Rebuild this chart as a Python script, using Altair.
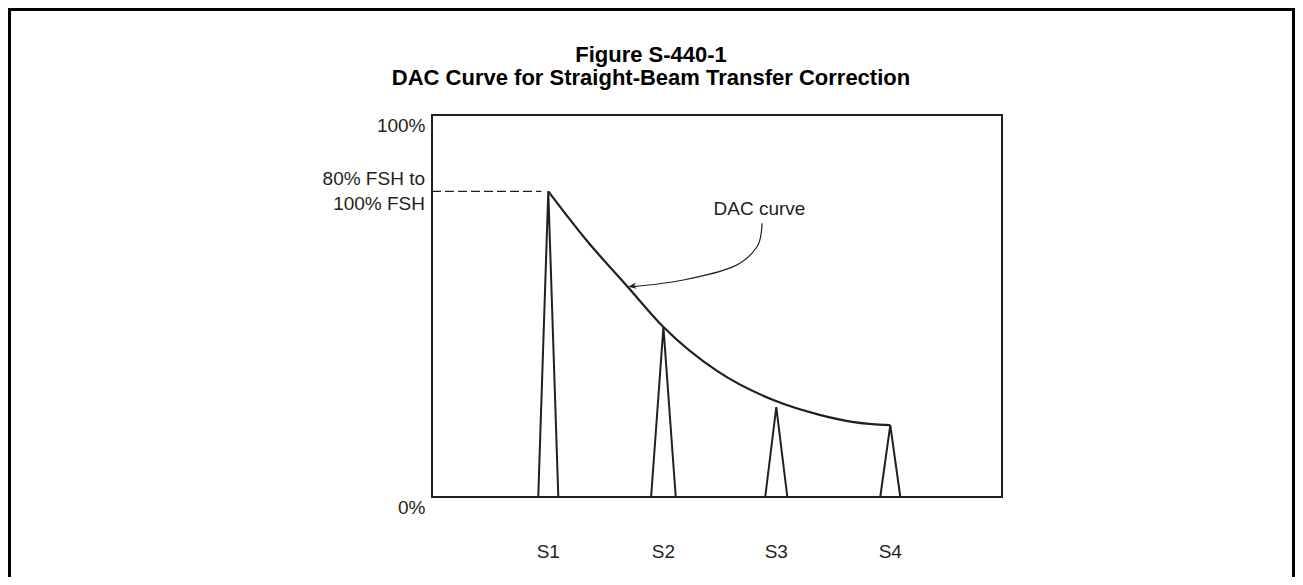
import altair as alt
import pandas as pd

INK = "#231f20"
FONT = "Liberation Sans"

# ---- data ----
peak_names = ["S1", "S2", "S3", "S4"]
peak_pos = [1.02, 2.03, 3.02, 4.02]
peak_height = [80.0, 44.5, 23.5, 18.8]
peak_half_width = [0.088, 0.108, 0.097, 0.088]

dac_x = [1.02, 1.35, 1.72, 2.03, 2.5, 3.0, 3.4, 3.7, 4.02]
dac_y = [80.0, 67.4, 54.9, 44.5, 33.0, 25.3, 21.5, 19.6, 18.8]

arrow_x = [2.895, 2.851, 2.643, 2.205, 1.766]
arrow_y = [71.65, 65.5, 60.3, 56.8, 55.05]
arrow_tip_x = [1.722]
arrow_tip_y = [55.05]

fsh_level = 80.0
dash_x = [0.0, 0.96]

y_ticks = [0, 100]
fsh_label = ["80% FSH to", "100% FSH"]
dac_label = "DAC curve"
dac_label_x = [2.47]
dac_label_y = [73.8]
title_lines = ["Figure S-440-1", "DAC Curve for Straight-Beam Transfer Correction"]

# ---- tables ----
rows = []
for n, p, h, w in zip(peak_names, peak_pos, peak_height, peak_half_width):
    rows += [
        {"name": n, "k": 0, "x": p - w, "y": 0.0},
        {"name": n, "k": 1, "x": p, "y": h},
        {"name": n, "k": 2, "x": p + w, "y": 0.0},
    ]
peaks_df = pd.DataFrame(rows)
dac_df = pd.DataFrame({"x": dac_x, "y": dac_y})
arrow_df = pd.DataFrame({"x": arrow_x, "y": arrow_y, "k": list(range(len(arrow_x)))})
tip_df = pd.DataFrame({"x": arrow_tip_x, "y": arrow_tip_y})
dash_df = pd.DataFrame({"x": dash_x, "y": [fsh_level] * len(dash_x)})
lab_df = pd.DataFrame({"x": peak_pos, "name": peak_names})
fsh_df = pd.DataFrame({"y": [fsh_level]})
dac_lab_df = pd.DataFrame({"x": dac_label_x, "y": dac_label_y, "t": [dac_label]})

W, H = 570, 382
xs = alt.Scale(domain=[0, 5], nice=False, zero=False)
ys = alt.Scale(domain=[0, 100], nice=False)
yaxis = alt.Axis(values=y_ticks, labelExpr="datum.value + '%'", ticks=False, domain=False,
                 grid=False, title=None, labelFontSize=19, labelFont=FONT, labelColor=INK,
                 labelPadding=7, labelBaseline="top", labelOffset=1)


def X():
    return alt.X("x:Q", scale=xs, axis=None)


def Y():
    return alt.Y("y:Q", scale=ys, axis=yaxis)


peaks = alt.Chart(peaks_df).mark_line(color=INK, strokeWidth=2).encode(
    X(), Y(), detail="name:N", order="k:O")
dac = alt.Chart(dac_df).mark_line(color=INK, strokeWidth=2.2, interpolate="monotone").encode(X(), Y())
dash = alt.Chart(dash_df).mark_line(color=INK, strokeWidth=1.2, strokeDash=[9, 4]).encode(X(), Y())
arrow = alt.Chart(arrow_df).mark_line(color=INK, strokeWidth=1.2, interpolate="cardinal").encode(
    X(), Y(), order="k:O")
tip = alt.Chart(tip_df).mark_point(shape="M 0 0 L 2 -0.8 L 1.45 0 L 2 0.8 Z", filled=True,
                                   size=64, angle=352, color=INK, opacity=1, strokeWidth=0).encode(X(), Y())
slabels = alt.Chart(lab_df).mark_text(font=FONT, fontSize=19, color=INK, baseline="middle").encode(
    x=alt.X("x:Q", scale=xs, axis=None), y=alt.value(H + 55), text="name:N")
fsh = alt.Chart(fsh_df).mark_text(text=fsh_label, font=FONT, fontSize=19, color=INK, align="right",
                                  baseline="alphabetic", lineHeight=25, dy=-6).encode(
    x=alt.value(-7), y=alt.Y("y:Q", scale=ys, axis=yaxis))
daclab = alt.Chart(dac_lab_df).mark_text(font=FONT, fontSize=19, color=INK, align="left",
                                         baseline="alphabetic").encode(X(), Y(), text="t:N")

title1 = alt.Chart(fsh_df).mark_text(font=FONT, fontSize=22, fontWeight="bold", color="#000",
                                     baseline="alphabetic").encode(
    x=alt.value(219), y=alt.value(-53), text=alt.value(title_lines[0]))
title2 = alt.Chart(fsh_df).mark_text(font=FONT, fontSize=22, fontWeight="bold", color="#000",
                                     baseline="alphabetic").encode(
    x=alt.value(219), y=alt.value(-30), text=alt.value(title_lines[1]))

# outer frame (open at the bottom, as in the page crop)
fl = alt.Chart(fsh_df).mark_rule(color="#000", strokeWidth=3).encode(
    x=alt.value(-422.5), y=alt.value(-107), y2=alt.value(462))
fr = alt.Chart(fsh_df).mark_rule(color="#000", strokeWidth=3).encode(
    x=alt.value(861.5), y=alt.value(-107), y2=alt.value(462))
ft = alt.Chart(fsh_df).mark_rule(color="#000", strokeWidth=3).encode(
    x=alt.value(-424), x2=alt.value(863), y=alt.value(-105.5))

chart = alt.layer(
    peaks, dac, dash, arrow, tip, slabels, fsh, daclab, title1, title2, fl, fr, ft
).properties(
    width=W, height=H,
    autosize=alt.AutoSizeParams(type="none"),
    padding={"left": 424, "top": 107, "right": 293, "bottom": 80},
    background="white",
).configure_view(stroke=INK, strokeWidth=2)

chart.save("out.html", embed_options={"renderer": "svg", "actions": False})
